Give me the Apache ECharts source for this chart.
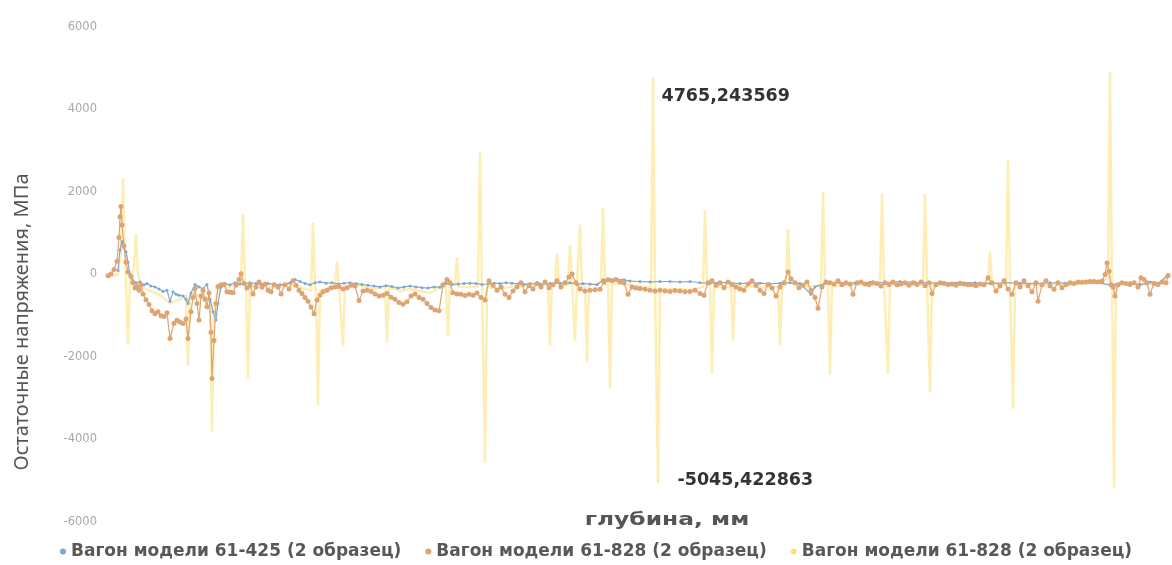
<!DOCTYPE html>
<html>
<head>
<meta charset="utf-8">
<script src="https://cdn.jsdelivr.net/npm/echarts@6/dist/echarts.min.js"></script>
<style>
  html, body { margin: 0; padding: 0; background: #fff; }
  #chart { width: 1172px; height: 565px; }
</style>
</head>
<body>
<div id="chart"></div>
<script>
// depth (axis units) / residual stress, MPa
var seriesKeys = ['s425', 's828a', 's828b'];
var seriesLabels = {
  s425: 'Вагон модели 61-425 (2 образец)',
  s828a: 'Вагон модели 61-828 (2 образец)',
  s828b: 'Вагон модели 61-828 (2 образец)'
};
var yTicks = [-6000, -4000, -2000, 0, 2000, 4000, 6000];

var blue = [
  [118,100],[120,600],[122,800],[124,650],[126,550],[128,300],[130,0],[133,-150],[136,-200],[140,-180],
  [144,-250],[147,-220],[151,-280],[155,-300],[159,-350],[163,-410],[167,-380],[170,-650],[173,-420],[176,-480],
  [179,-500],[183,-520],[186,-600],[188,-700],[191,-450],[195,-240],[199,-300],[203,-350],[207,-240],[210,-600],
  [213,-900],[216,-1100],[218,-700],[221,-300],[225,-220],[230,-250],[235,-200],[240,-230],[245,-220],[250,-200],
  [256,-220],[262,-240],[268,-220],[274,-230],[280,-250],[285,-240],[290,-200],[295,-120],[300,-170],[305,-220],
  [310,-250],[315,-200],[320,-180],[326,-210],[332,-200],[338,-230],[344,-210],[350,-200],[356,-220],[362,-240],
  [368,-260],[374,-280],[380,-300],[386,-270],[392,-290],[398,-330],[404,-300],[410,-280],[416,-300],[422,-320],
  [428,-330],[434,-300],[440,-310],[446,-220],[452,-240],[458,-230],[464,-220],[470,-210],[476,-220],[482,-240],
  [488,-230],[494,-210],[500,-220],[506,-200],[512,-210],[518,-230],[524,-240],[530,-220],[540,-230],[550,-220],
  [560,-210],[570,-200],[577,-240],[583,-220],[590,-230],[597,-250],[603,-130],[610,-120],[617,-120],[624,-130],
  [630,-160],[640,-170],[650,-180],[660,-170],[670,-170],[680,-180],[690,-170],[700,-200],[710,-210],[720,-190],
  [730,-200],[740,-220],[750,-200],[760,-210],[770,-230],[780,-210],[790,-200],[800,-220],[811,-480],[815,-300],
  [825,-220],[840,-200],[855,-210],[870,-190],[885,-200],[900,-170],[915,-190],[930,-200],[945,-210],[960,-190],
  [975,-200],[990,-220],[1005,-200],[1020,-210],[1035,-220],[1050,-200],[1065,-210],[1080,-200],[1095,-190],[1110,-250],
  [1120,-220],[1130,-200],[1140,-250],[1150,-180],[1160,-200],[1168,0]
];

var orange = [
  [108,-30],[111,10],[114,120],[117,320],[119,900],[120,1400],[121,1650],[122,1200],[124,700],[126,300],
  [128,60],[131,-50],[133,-200],[135,-330],[137,-290],[139,-380],[141,-250],[143,-470],[146,-610],[149,-730],
  [152,-880],[155,-950],[158,-900],[161,-1000],[164,-1020],[167,-930],[170,-1550],[174,-1180],[177,-1110],[180,-1150],
  [183,-1190],[186,-1080],[188,-1550],[191,-900],[193,-560],[195,-340],[197,-700],[199,-1100],[201,-520],[203,-380],
  [205,-600],[207,-780],[209,-450],[211,-1400],[212,-2520],[214,-1600],[216,-700],[218,-290],[221,-250],[224,-240],
  [227,-420],[230,-430],[233,-440],[236,-260],[239,-120],[241,20],[244,-220],[247,-330],[250,-260],[253,-470],
  [256,-300],[259,-180],[262,-310],[265,-230],[268,-380],[271,-420],[274,-250],[278,-300],[281,-470],[285,-250],
  [289,-350],[293,-150],[296,-260],[299,-380],[302,-460],[305,-560],[308,-650],[311,-790],[314,-950],[317,-620],
  [320,-500],[323,-420],[327,-380],[331,-330],[335,-300],[339,-290],[343,-350],[347,-320],[351,-260],[355,-280],
  [359,-630],[363,-400],[367,-380],[371,-410],[375,-470],[379,-520],[383,-500],[387,-460],[391,-550],[395,-600],
  [399,-680],[403,-720],[407,-660],[411,-520],[415,-470],[419,-560],[423,-600],[427,-700],[431,-800],[435,-860],
  [439,-880],[443,-250],[447,-120],[450,-200],[453,-440],[457,-470],[461,-480],[465,-510],[469,-480],[473,-500],
  [477,-450],[481,-560],[485,-620],[489,-150],[493,-260],[497,-380],[501,-300],[505,-480],[509,-560],[513,-400],
  [517,-300],[521,-200],[525,-420],[529,-270],[533,-350],[537,-220],[541,-300],[545,-180],[549,-320],[553,-250],
  [557,-150],[561,-300],[565,-200],[569,-60],[572,10],[576,-200],[580,-350],[585,-400],[590,-380],[595,-370],
  [600,-360],[604,-180],[608,-130],[612,-150],[616,-120],[620,-180],[624,-200],[628,-480],[632,-300],[636,-330],
  [640,-340],[645,-360],[650,-380],[655,-400],[660,-380],[665,-400],[670,-410],[675,-390],[680,-400],[685,-420],
  [690,-410],[695,-380],[700,-460],[704,-500],[708,-200],[712,-150],[716,-260],[720,-200],[724,-320],[728,-180],
  [732,-240],[736,-300],[740,-350],[744,-380],[748,-230],[752,-150],[756,-260],[760,-380],[764,-460],[768,-240],
  [772,-330],[776,-520],[780,-300],[784,-200],[788,60],[791,-100],[795,-200],[799,-320],[803,-260],[807,-180],
  [811,-380],[815,-560],[818,-820],[822,-300],[826,-180],[830,-200],[834,-230],[838,-150],[842,-250],[846,-200],
  [850,-230],[853,-480],[857,-200],[861,-180],[865,-230],[869,-250],[873,-200],[877,-220],[881,-280],[885,-200],
  [889,-240],[893,-180],[897,-250],[901,-230],[905,-200],[909,-260],[913,-200],[917,-240],[921,-180],[925,-270],
  [929,-200],[932,-460],[936,-250],[940,-200],[944,-210],[948,-240],[952,-230],[956,-260],[960,-220],[964,-230],
  [968,-250],[972,-240],[976,-270],[980,-230],[984,-250],[988,-80],[992,-200],[996,-400],[1000,-280],[1004,-150],
  [1008,-350],[1012,-480],[1016,-200],[1020,-300],[1024,-150],[1028,-270],[1032,-420],[1036,-200],[1038,-650],[1042,-250],
  [1046,-150],[1050,-280],[1054,-360],[1058,-200],[1062,-320],[1066,-250],[1070,-200],[1074,-220],[1078,-180],[1082,-190],
  [1086,-180],[1090,-170],[1094,-170],[1098,-180],[1102,-160],[1105,0],[1107,280],[1109,80],[1111,-250],[1113,-300],
  [1115,-520],[1118,-250],[1122,-200],[1126,-220],[1130,-240],[1134,-200],[1138,-300],[1141,-80],[1144,-120],[1147,-200],
  [1150,-480],[1154,-220],[1158,-240],[1162,-180],[1166,-200],[1168,-30]
];

var yellow = [
  [108,-50],[118,0],[121,600],[123,2330],[125,300],[126,-200],[128,-1700],[130,-200],[134,200],[136,970],
  [138,0],[142,-300],[150,-400],[160,-500],[170,-700],[180,-600],[186,-500],[188,-2200],[190,-500],[200,-500],
  [210,-600],[212,-3800],[214,-700],[220,-300],[230,-300],[241,-200],[243,1450],[245,-200],[246,-250],[248,-2500],
  [250,-300],[260,-250],[270,-300],[280,-300],[290,-250],[300,-300],[311,-400],[313,1240],[315,-300],[316,-350],
  [318,-3150],[320,-400],[330,-300],[335,-250],[337,300],[339,-300],[341,-300],[343,-1700],[345,-300],[355,-250],
  [365,-300],[375,-350],[385,-300],[387,-1650],[389,-300],[400,-400],[410,-350],[420,-400],[430,-450],[440,-300],
  [446,-300],[448,-1500],[450,-250],[455,-250],[457,400],[459,-300],[470,-300],[478,-300],[480,2980],[482,-300],
  [483,-300],[485,-4550],[487,-300],[500,-350],[510,-300],[520,-280],[530,-300],[540,-250],[548,-250],[550,-1700],
  [552,-200],[555,-200],[557,500],[559,-250],[568,-250],[570,700],[572,-200],[573,-200],[575,-1600],[577,-200],
  [578,-200],[580,1200],[582,-300],[585,-300],[587,-2100],[589,-250],[601,-200],[603,1600],[605,-250],[608,-250],
  [610,-2750],[612,-250],[620,-200],[630,-250],[640,-300],[651,-300],[653,4765.243569],[655,-300],[656,-300],[658,-5045.422863],
  [660,-350],[670,-350],[680,-350],[690,-380],[703,-300],[705,1550],[707,-250],[710,-250],[712,-2400],[714,-300],
  [725,-300],[731,-300],[733,-1600],[735,-250],[745,-300],[755,-300],[765,-300],[778,-300],[780,-1700],[782,-250],
  [786,-250],[788,1100],[790,-200],[800,-250],[810,-300],[821,-250],[823,2000],[825,-200],[828,-200],[830,-2420],
  [832,-300],[845,-250],[860,-250],[875,-250],[880,-250],[882,1950],[884,-200],[886,-200],[888,-2400],[890,-250],
  [905,-250],[915,-250],[923,-250],[925,1950],[927,-200],[928,-200],[930,-2850],[932,-250],[950,-250],[970,-250],
  [988,-200],[990,550],[992,-200],[1000,-250],[1006,-250],[1008,2750],[1010,-200],[1011,-200],[1013,-3250],[1015,-250],
  [1030,-250],[1050,-250],[1070,-250],[1090,-200],[1108,-100],[1110,4900],[1112,-200],[1114,-5150],[1116,-250],[1130,-200],
  [1145,-250],[1160,-200],[1170,0]
];

// the two annotated extremes of the third series
var annotated = [4765.243569, -5045.422863];

var chart = echarts.init(document.getElementById('chart'));

var yellowData = yellow.map(function (p) {
  var i = annotated.indexOf(p[1]);
  if (i < 0) return p;
  return {
    value: p,
    label: {
      show: true,
      position: 'right',
      distance: i === 0 ? 8 : 19,
      offset: i === 0 ? [0, 19] : [0, -2],
      formatter: function (d) { return String(d.value[1]).replace('.', ','); },
      color: '#333',
      fontSize: 17.5,
      fontWeight: 'bold',
      fontFamily: 'DejaVu Sans'
    }
  };
});

var option = {
  animation: false,
  backgroundColor: '#fff',
  grid: { left: 108, right: 2, top: 27, bottom: 43 },
  xAxis: {
    type: 'value',
    min: 108,
    max: 1170,
    axisLine: { show: false, onZero: false },
    axisTick: { show: false },
    axisLabel: { show: false },
    splitLine: { show: false }
  },
  yAxis: {
    type: 'value',
    min: yTicks[0],
    max: yTicks[yTicks.length - 1],
    interval: 2000,
    axisLine: { show: false },
    axisTick: { show: false },
    splitLine: { show: false },
    axisLabel: {
      color: '#a8a8a8', fontSize: 11.5, margin: 11, fontFamily: 'DejaVu Sans',
      formatter: function (v) { return String(v); }
    }
  },
  legend: {
    left: 55,
    bottom: 0,
    icon: 'circle',
    itemWidth: 6,
    itemHeight: 6,
    itemGap: 24,
    data: seriesKeys,
    formatter: function (k) { return seriesLabels[k]; },
    textStyle: { color: '#585858', fontSize: 17, fontWeight: 'bold', fontFamily: 'DejaVu Sans' }
  },
  graphic: [
    {
      type: 'text', x: 22, y: 322, rotation: Math.PI / 2,
      style: {
        text: 'Остаточные напряжения, МПа', align: 'center', verticalAlign: 'middle',
        fill: '#555', fontSize: 20, fontFamily: 'Noto Sans'
      }
    },
    {
      type: 'text', x: 667, y: 520, scaleX: 1.3,
      style: {
        text: 'глубина, мм', align: 'center', verticalAlign: 'middle',
        fill: '#555', fontSize: 18, fontWeight: 'bold', fontFamily: 'DejaVu Sans'
      }
    }
  ],
  series: [
    {
      name: seriesKeys[0],
      type: 'line',
      z: 3,
      data: blue,
      symbol: 'circle',
      symbolSize: 3,
      itemStyle: { color: '#7ea8d0' },
      lineStyle: { color: '#7ea8d0', width: 1.2 }
    },
    {
      name: seriesKeys[1],
      type: 'line',
      z: 4,
      data: orange,
      symbol: 'circle',
      symbolSize: 5,
      itemStyle: { color: '#dea472' },
      lineStyle: { color: '#dea472', width: 1.2 }
    },
    {
      name: seriesKeys[2],
      type: 'line',
      z: 2,
      data: yellowData,
      symbol: 'circle',
      symbolSize: 1,
      showSymbol: true,
      itemStyle: { color: '#fbe07a' },
      lineStyle: { color: '#fbe07a', width: 2.5, opacity: 0.55 }
    }
  ]
};

chart.setOption(option);
</script>
</body>
</html>
